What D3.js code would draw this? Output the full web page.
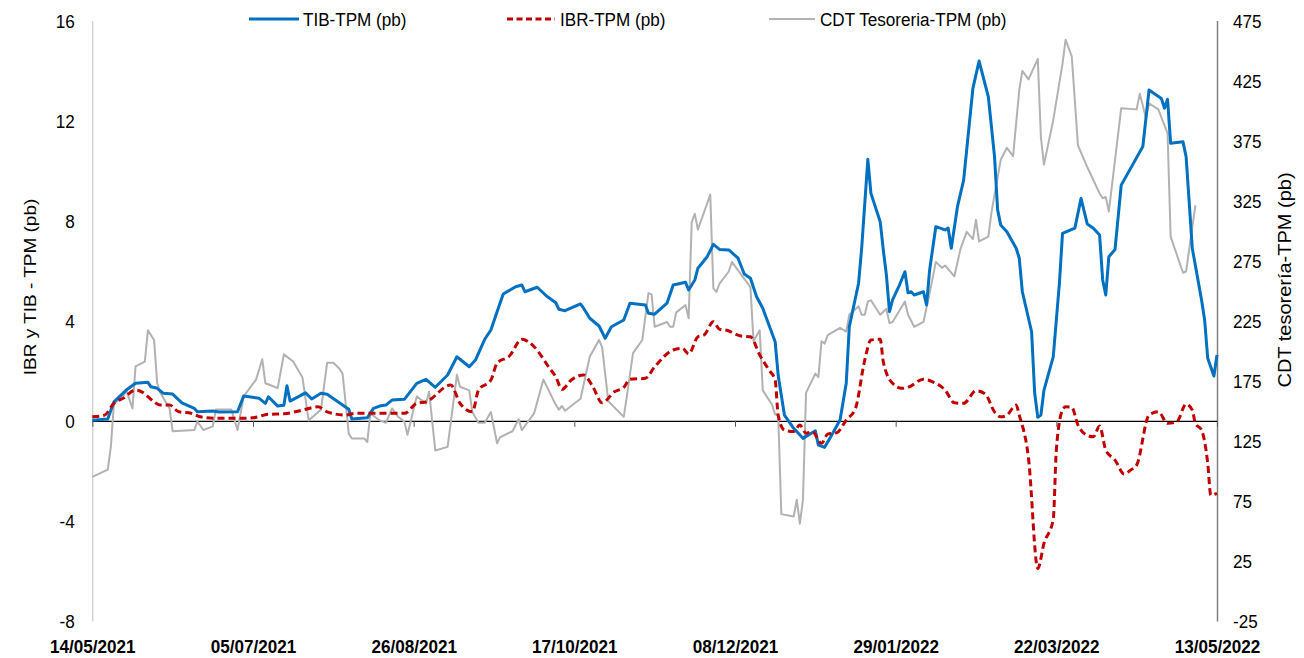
<!DOCTYPE html>
<html>
<head>
<meta charset="utf-8">
<script src="https://cdn.jsdelivr.net/npm/d3@7"></script>
<style>
  html, body { margin: 0; padding: 0; background: #fff; }
  svg { display: block; }
  text { font-family: "Liberation Sans", Arial, sans-serif; fill: #000; }
</style>
</head>
<body>
<svg id="chart" width="1304" height="658"></svg>
<script>
// ---------------- DATA ----------------
const xTickLabels = ["14/05/2021","05/07/2021","26/08/2021","17/10/2021","08/12/2021","29/01/2022","22/03/2022","13/05/2022"];
const leftTicks = [-8, -4, 0, 4, 8, 12, 16];
const rightTicks = [-25, 25, 75, 125, 175, 225, 275, 325, 375, 425, 475];
const seriesNames = ["TIB-TPM (pb)", "IBR-TPM (pb)", "CDT Tesoreria-TPM (pb)"];
const leftTitle = "IBR y TIB - TPM (pb)";
const rightTitle = "CDT tesorería-TPM (pb)";

const tibSeries = [["2021-05-14",0.02],["2021-05-19",0.07],["2021-05-21",0.76],["2021-05-25",1.23],["2021-05-28",1.5],["2021-06-01",1.54],["2021-06-02",1.36],["2021-06-04",1.3],["2021-06-06",1.1],["2021-06-09",1.07],["2021-06-12",0.72],["2021-06-16",0.5],["2021-06-17",0.36],["2021-06-22",0.39],["2021-06-24",0.35],["2021-06-30",0.36],["2021-07-02",0.99],["2021-07-07",0.9],["2021-07-09",0.7],["2021-07-10",0.96],["2021-07-13",0.59],["2021-07-15",0.62],["2021-07-16",1.4],["2021-07-17",0.79],["2021-07-22",1.12],["2021-07-24",0.87],["2021-07-27",1.1],["2021-07-29",1.06],["2021-08-03",0.63],["2021-08-05",0.46],["2021-08-06",0.07],["2021-08-11",0.12],["2021-08-13",0.5],["2021-08-15",0.59],["2021-08-17",0.63],["2021-08-19",0.83],["2021-08-23",0.86],["2021-08-27",1.5],["2021-08-30",1.66],["2021-09-02",1.34],["2021-09-06",1.83],["2021-09-09",2.56],["2021-09-13",2.16],["2021-09-15",2.43],["2021-09-18",3.26],["2021-09-20",3.63],["2021-09-22",4.36],["2021-09-24",5.07],["2021-09-28",5.36],["2021-09-30",5.43],["2021-10-01",5.16],["2021-10-05",5.34],["2021-10-08",4.99],["2021-10-11",4.72],["2021-10-12",4.46],["2021-10-14",4.4],["2021-10-19",4.67],["2021-10-20",4.5],["2021-10-22",4.1],["2021-10-25",3.79],["2021-10-27",3.3],["2021-10-29",3.76],["2021-11-02",4.03],["2021-11-04",4.7],["2021-11-09",4.63],["2021-11-10",4.3],["2021-11-12",4.26],["2021-11-16",4.7],["2021-11-18",5.43],["2021-11-22",5.54],["2021-11-23",5.23],["2021-11-25",5.63],["2021-11-26",6.1],["2021-11-29",6.56],["2021-12-01",7.05],["2021-12-03",6.85],["2021-12-06",6.83],["2021-12-09",6.5],["2021-12-11",5.87],["2021-12-13",5.7],["2021-12-15",4.96],["2021-12-17",4.5],["2021-12-18",4.16],["2021-12-21",3.16],["2021-12-22",1.8],["2021-12-24",0.23],["2021-12-27",-0.3],["2021-12-30",-0.7],["2022-01-03",-0.4],["2022-01-04",-0.97],["2022-01-06",-1.06],["2022-01-08",-0.64],["2022-01-11",0.03],["2022-01-13",1.5],["2022-01-14",3.76],["2022-01-17",5.5],["2022-01-18",6.9],["2022-01-20",10.45],["2022-01-21",9.09],["2022-01-24",7.96],["2022-01-25",6.83],["2022-01-26",5.83],["2022-01-27",4.36],["2022-01-28",4.83],["2022-01-30",5.36],["2022-02-01",5.96],["2022-02-02",5.12],["2022-02-03",5.16],["2022-02-04",5.03],["2022-02-07",5.16],["2022-02-08",4.63],["2022-02-09",6.03],["2022-02-10",6.9],["2022-02-11",7.76],["2022-02-14",7.63],["2022-02-15",7.7],["2022-02-16",6.9],["2022-02-18",8.56],["2022-02-20",9.62],["2022-02-23",13.29],["2022-02-25",14.38],["2022-02-28",12.95],["2022-03-02",10.56],["2022-03-03",8.43],["2022-03-04",7.83],["2022-03-06",7.56],["2022-03-09",6.9],["2022-03-10",6.5],["2022-03-11",5.16],["2022-03-14",3.56],["2022-03-15",1.1],["2022-03-16",0.14],["2022-03-17",0.23],["2022-03-18",1.23],["2022-03-21",2.56],["2022-03-23",5.5],["2022-03-24",7.49],["2022-03-28",7.7],["2022-03-30",8.89],["2022-04-01",7.87],["2022-04-03",7.7],["2022-04-05",7.43],["2022-04-06",5.63],["2022-04-07",5.03],["2022-04-08",6.56],["2022-04-10",6.85],["2022-04-12",9.42],["2022-04-19",10.96],["2022-04-21",13.22],["2022-04-25",12.88],["2022-04-26",12.49],["2022-04-27",12.85],["2022-04-28",11.09],["2022-05-02",11.15],["2022-05-03",10.56],["2022-05-05",6.9],["2022-05-08",4.83],["2022-05-09",4.03],["2022-05-10",2.5],["2022-05-12",1.79],["2022-05-13",2.63]];

const ibrSeries = [["2021-05-14",0.16],["2021-05-18",0.23],["2021-05-21",0.7],["2021-05-24",0.9],["2021-05-28",1.23],["2021-05-30",1.16],["2021-06-03",0.76],["2021-06-05",0.63],["2021-06-08",0.63],["2021-06-11",0.36],["2021-06-15",0.3],["2021-06-18",0.16],["2021-06-23",0.1],["2021-06-30",0.1],["2021-07-05",0.12],["2021-07-10",0.26],["2021-07-15",0.28],["2021-07-21",0.43],["2021-07-26",0.56],["2021-07-29",0.36],["2021-08-04",0.23],["2021-08-07",0.3],["2021-08-12",0.3],["2021-08-19",0.3],["2021-08-23",0.3],["2021-08-27",0.7],["2021-08-30",0.76],["2021-09-07",1.43],["2021-09-10",0.7],["2021-09-14",0.36],["2021-09-16",1.23],["2021-09-20",1.63],["2021-09-22",2.3],["2021-09-26",2.59],["2021-09-30",3.26],["2021-10-04",2.96],["2021-10-09",2.1],["2021-10-11",1.76],["2021-10-13",1.26],["2021-10-16",1.63],["2021-10-20",1.83],["2021-10-23",1.36],["2021-10-26",0.72],["2021-10-30",1.16],["2021-11-02",1.34],["2021-11-04",1.66],["2021-11-09",1.7],["2021-11-12",2.16],["2021-11-18",2.83],["2021-11-21",2.9],["2021-11-23",2.67],["2021-11-26",3.36],["2021-11-28",3.43],["2021-12-01",3.96],["2021-12-03",3.66],["2021-12-05",3.63],["2021-12-10",3.39],["2021-12-13",3.36],["2021-12-16",2.63],["2021-12-19",2.03],["2021-12-21",1.63],["2021-12-22",0.2],["2021-12-24",-0.37],["2021-12-27",-0.43],["2021-12-29",-0.17],["2021-12-31",-0.5],["2022-01-02",-0.43],["2022-01-05",-0.9],["2022-01-07",-0.53],["2022-01-10",-0.47],["2022-01-13",0.03],["2022-01-16",0.5],["2022-01-19",2.43],["2022-01-21",3.23],["2022-01-24",3.26],["2022-01-25",2.36],["2022-01-28",1.5],["2022-01-31",1.3],["2022-02-02",1.34],["2022-02-07",1.66],["2022-02-10",1.56],["2022-02-14",1.23],["2022-02-17",0.72],["2022-02-20",0.7],["2022-02-24",1.2],["2022-02-27",1.07],["2022-03-02",0.36],["2022-03-04",0.16],["2022-03-06",0.23],["2022-03-09",0.63],["2022-03-10",0.23],["2022-03-13",-1.5],["2022-03-16",-5.9],["2022-03-18",-4.9],["2022-03-21",-3.94],["2022-03-22",-1.17],["2022-03-24",0.43],["2022-03-25",0.56],["2022-03-27",0.54],["2022-03-29",-0.17],["2022-03-31",-0.5],["2022-04-03",-0.64],["2022-04-05",-0.21],["2022-04-07",-1.17],["2022-04-10",-1.57],["2022-04-13",-2.13],["2022-04-15",-1.97],["2022-04-17",-1.77],["2022-04-21",0.23],["2022-04-24",0.36],["2022-04-27",-0.1],["2022-04-30",-0.04],["2022-05-03",0.67],["2022-05-05",0.43],["2022-05-06",-0.1],["2022-05-08",-0.37],["2022-05-10",-1.7],["2022-05-11",-2.97],["2022-05-13",-2.9]];

const cdtSeries = [["2021-05-14",95],["2021-05-19",101],["2021-05-20",120],["2021-05-21",156],["2021-05-24",162],["2021-05-25",167],["2021-05-27",152],["2021-05-28",187],["2021-05-31",191],["2021-06-01",217],["2021-06-03",209],["2021-06-04",173],["2021-06-05",165],["2021-06-08",152],["2021-06-09",133],["2021-06-16",134],["2021-06-17",141],["2021-06-19",134],["2021-06-22",137],["2021-06-23",151],["2021-06-28",151],["2021-06-30",134],["2021-07-02",162],["2021-07-06",176],["2021-07-08",193],["2021-07-09",173],["2021-07-13",169],["2021-07-15",197],["2021-07-18",191],["2021-07-21",178],["2021-07-23",142],["2021-07-27",151],["2021-07-29",190],["2021-07-31",190],["2021-08-02",185],["2021-08-03",181],["2021-08-05",131],["2021-08-06",127],["2021-08-10",127],["2021-08-11",124],["2021-08-12",148],["2021-08-15",142],["2021-08-17",140],["2021-08-19",152],["2021-08-21",145],["2021-08-23",141],["2021-08-24",130],["2021-08-27",162],["2021-08-30",156],["2021-08-31",166],["2021-09-02",117],["2021-09-06",120],["2021-09-09",180],["2021-09-10",170],["2021-09-13",167],["2021-09-14",149],["2021-09-16",140],["2021-09-18",140],["2021-09-20",149],["2021-09-22",123],["2021-09-23",128],["2021-09-27",133],["2021-09-29",143],["2021-09-30",134],["2021-10-04",148],["2021-10-07",176],["2021-10-11",155],["2021-10-12",151],["2021-10-13",154],["2021-10-14",150],["2021-10-19",160],["2021-10-22",195],["2021-10-25",209],["2021-10-26",203],["2021-10-28",158],["2021-11-02",145],["2021-11-03",162],["2021-11-05",198],["2021-11-08",209],["2021-11-10",248],["2021-11-11",247],["2021-11-12",220],["2021-11-16",224],["2021-11-17",220],["2021-11-18",220],["2021-11-19",232],["2021-11-22",238],["2021-11-23",227],["2021-11-24",307],["2021-11-25",314],["2021-11-26",301],["2021-11-30",330],["2021-12-01",252],["2021-12-02",249],["2021-12-03",256],["2021-12-06",266],["2021-12-07",274],["2021-12-09",267],["2021-12-13",253],["2021-12-14",208],["2021-12-16",217],["2021-12-17",167],["2021-12-20",155],["2021-12-21",147],["2021-12-22",146],["2021-12-23",64],["2021-12-27",62],["2021-12-28",76],["2021-12-29",56],["2021-12-30",76],["2021-12-31",165],["2022-01-03",181],["2022-01-04",178],["2022-01-05",208],["2022-01-06",206],["2022-01-07",213],["2022-01-11",219],["2022-01-13",216],["2022-01-14",230],["2022-01-17",237],["2022-01-18",230],["2022-01-19",230],["2022-01-20",241],["2022-01-21",242],["2022-01-24",230],["2022-01-26",235],["2022-01-27",223],["2022-01-28",224],["2022-02-01",241],["2022-02-02",230],["2022-02-04",220],["2022-02-07",224],["2022-02-09",248],["2022-02-11",274],["2022-02-13",269],["2022-02-14",271],["2022-02-17",262],["2022-02-19",285],["2022-02-21",299],["2022-02-23",293],["2022-02-24",309],["2022-02-25",291],["2022-02-28",295],["2022-03-01",315],["2022-03-04",359],["2022-03-06",369],["2022-03-08",362],["2022-03-10",417],["2022-03-11",433],["2022-03-13",426],["2022-03-16",443],["2022-03-17",378],["2022-03-18",355],["2022-03-21",392],["2022-03-24",439],["2022-03-25",459],["2022-03-27",445],["2022-03-29",371],["2022-04-01",353],["2022-04-05",331],["2022-04-06",327],["2022-04-07",328],["2022-04-08",316],["2022-04-10",359],["2022-04-12",402],["2022-04-17",401],["2022-04-18",414],["2022-04-20",394],["2022-04-21",406],["2022-04-24",401],["2022-04-27",381],["2022-04-28",295],["2022-05-02",265],["2022-05-03",266],["2022-05-06",321]];

// ---------------- CHART ----------------
const parseISO = d3.timeParse("%Y-%m-%d");
const parseTick = d3.timeParse("%d/%m/%Y");
const SX = 0.9; // horizontal text squeeze seen in the original picture
const numFmt = d => String(d); // plain hyphen-minus like the original

const svg = d3.select("#chart");
const plotLeft = 92.3, plotRight = 1217, plotTop = 20.5, plotBottom = 621;

const x = d3.scaleTime()
  .domain([parseTick(xTickLabels[0]), parseTick(xTickLabels[xTickLabels.length - 1])])
  .range([plotLeft, plotRight]);
const yL = d3.scaleLinear().domain([-8, 16]).range([plotBottom, plotTop]);
const yR = d3.scaleLinear().domain([-25, 475]).range([plotBottom, plotTop]);

// left axis
const gL = svg.append("g").attr("transform", `translate(${plotLeft},0)`)
  .call(d3.axisLeft(yL).tickValues(leftTicks).tickSize(0).tickFormat(numFmt));
gL.select(".domain").attr("stroke", "#BFBFBF").attr("stroke-width", 1);
gL.selectAll("text").attr("font-size", 19).attr("font-family", "Liberation Sans, Arial, sans-serif")
  .attr("fill", "#000").attr("x", -17.5 / SX).attr("dy", "0.35em").attr("transform", `scale(${SX},1)`);

// right axis
const gR = svg.append("g").attr("transform", `translate(${plotRight},0)`)
  .call(d3.axisRight(yR).tickValues(rightTicks).tickSize(0).tickFormat(numFmt));
gR.select(".domain").attr("stroke", "#808080").attr("stroke-width", 1.5);
gR.selectAll("text").attr("font-size", 19).attr("font-family", "Liberation Sans, Arial, sans-serif")
  .attr("fill", "#000").attr("x", 16 / SX).attr("dy", "0.35em").attr("transform", `scale(${SX},1)`);

// zero line with ticks
const xTickDates = xTickLabels.map(parseTick);
const gZ = svg.append("g").attr("transform", `translate(0,${yL(0)})`)
  .call(d3.axisBottom(x).tickValues(xTickDates).tickSize(6).tickSizeOuter(0).tickFormat(""));
gZ.select(".domain").attr("stroke", "#000").attr("stroke-width", 1.2);
gZ.selectAll(".tick line").attr("stroke", "#595959").attr("stroke-width", 1);

// bottom labels
const gB = svg.append("g").attr("transform", `translate(0,${plotBottom})`)
  .call(d3.axisBottom(x).tickValues(xTickDates).tickSize(0)
    .tickFormat((d, i) => xTickLabels[i]));
gB.select(".domain").remove();
gB.selectAll("text").attr("font-size", 19).attr("font-weight", "bold")
  .attr("font-family", "Liberation Sans, Arial, sans-serif").attr("fill", "#000")
  .attr("y", 32).attr("dy", 0).attr("transform", `scale(${SX},1)`)
  .attr("x", 0);

// lines
const toPts = s => s.map(d => ({ date: parseISO(d[0]), v: d[1] }));
const lineL = d3.line().x(d => x(d.date)).y(d => yL(d.v));
const lineLsmooth = d3.line().x(d => x(d.date)).y(d => yL(d.v)).curve(d3.curveMonotoneX);
const lineR = d3.line().x(d => x(d.date)).y(d => yR(d.v));

svg.append("path").datum(toPts(cdtSeries)).attr("d", lineR)
  .attr("fill", "none").attr("stroke", "#B2B2B2").attr("stroke-width", 2).attr("stroke-linejoin", "round");
svg.append("path").datum(toPts(tibSeries)).attr("d", lineL)
  .attr("fill", "none").attr("stroke", "#0070C0").attr("stroke-width", 3).attr("stroke-linejoin", "round");
svg.append("path").datum(toPts(ibrSeries)).attr("d", lineLsmooth)
  .attr("fill", "none").attr("stroke", "#C00000").attr("stroke-width", 3)
  .attr("stroke-dasharray", "7,4").attr("stroke-linejoin", "round");

// titles
function squeezedText(px, py, str, size, rotate) {
  return svg.append("text")
    .attr("transform", `translate(${px},${py}) scale(${SX},1)` + (rotate ? ` rotate(${rotate})` : ""))
    .attr("text-anchor", "middle").attr("font-size", size).text(str);
}
squeezedText(36, 287, leftTitle, 19, -90);
squeezedText(1291, 280, rightTitle, 20, -90);

// legend
const legendItems = [
  { name: seriesNames[0], x1: 249, x2: 299, tx: 303, color: "#0070C0", w: 3, dash: null },
  { name: seriesNames[1], x1: 507, x2: 555, tx: 560, color: "#C00000", w: 3, dash: "6,3.5" },
  { name: seriesNames[2], x1: 769, x2: 815, tx: 820, color: "#B2B2B2", w: 2, dash: null }
];
const legY = 19;
legendItems.forEach(it => {
  svg.append("line").attr("x1", it.x1).attr("x2", it.x2).attr("y1", legY).attr("y2", legY)
    .attr("stroke", it.color).attr("stroke-width", it.w).attr("stroke-dasharray", it.dash);
  svg.append("text").attr("transform", `translate(${it.tx},${legY + 6.8}) scale(${SX},1)`)
    .attr("font-size", 19).text(it.name);
});
</script>
</body>
</html>
